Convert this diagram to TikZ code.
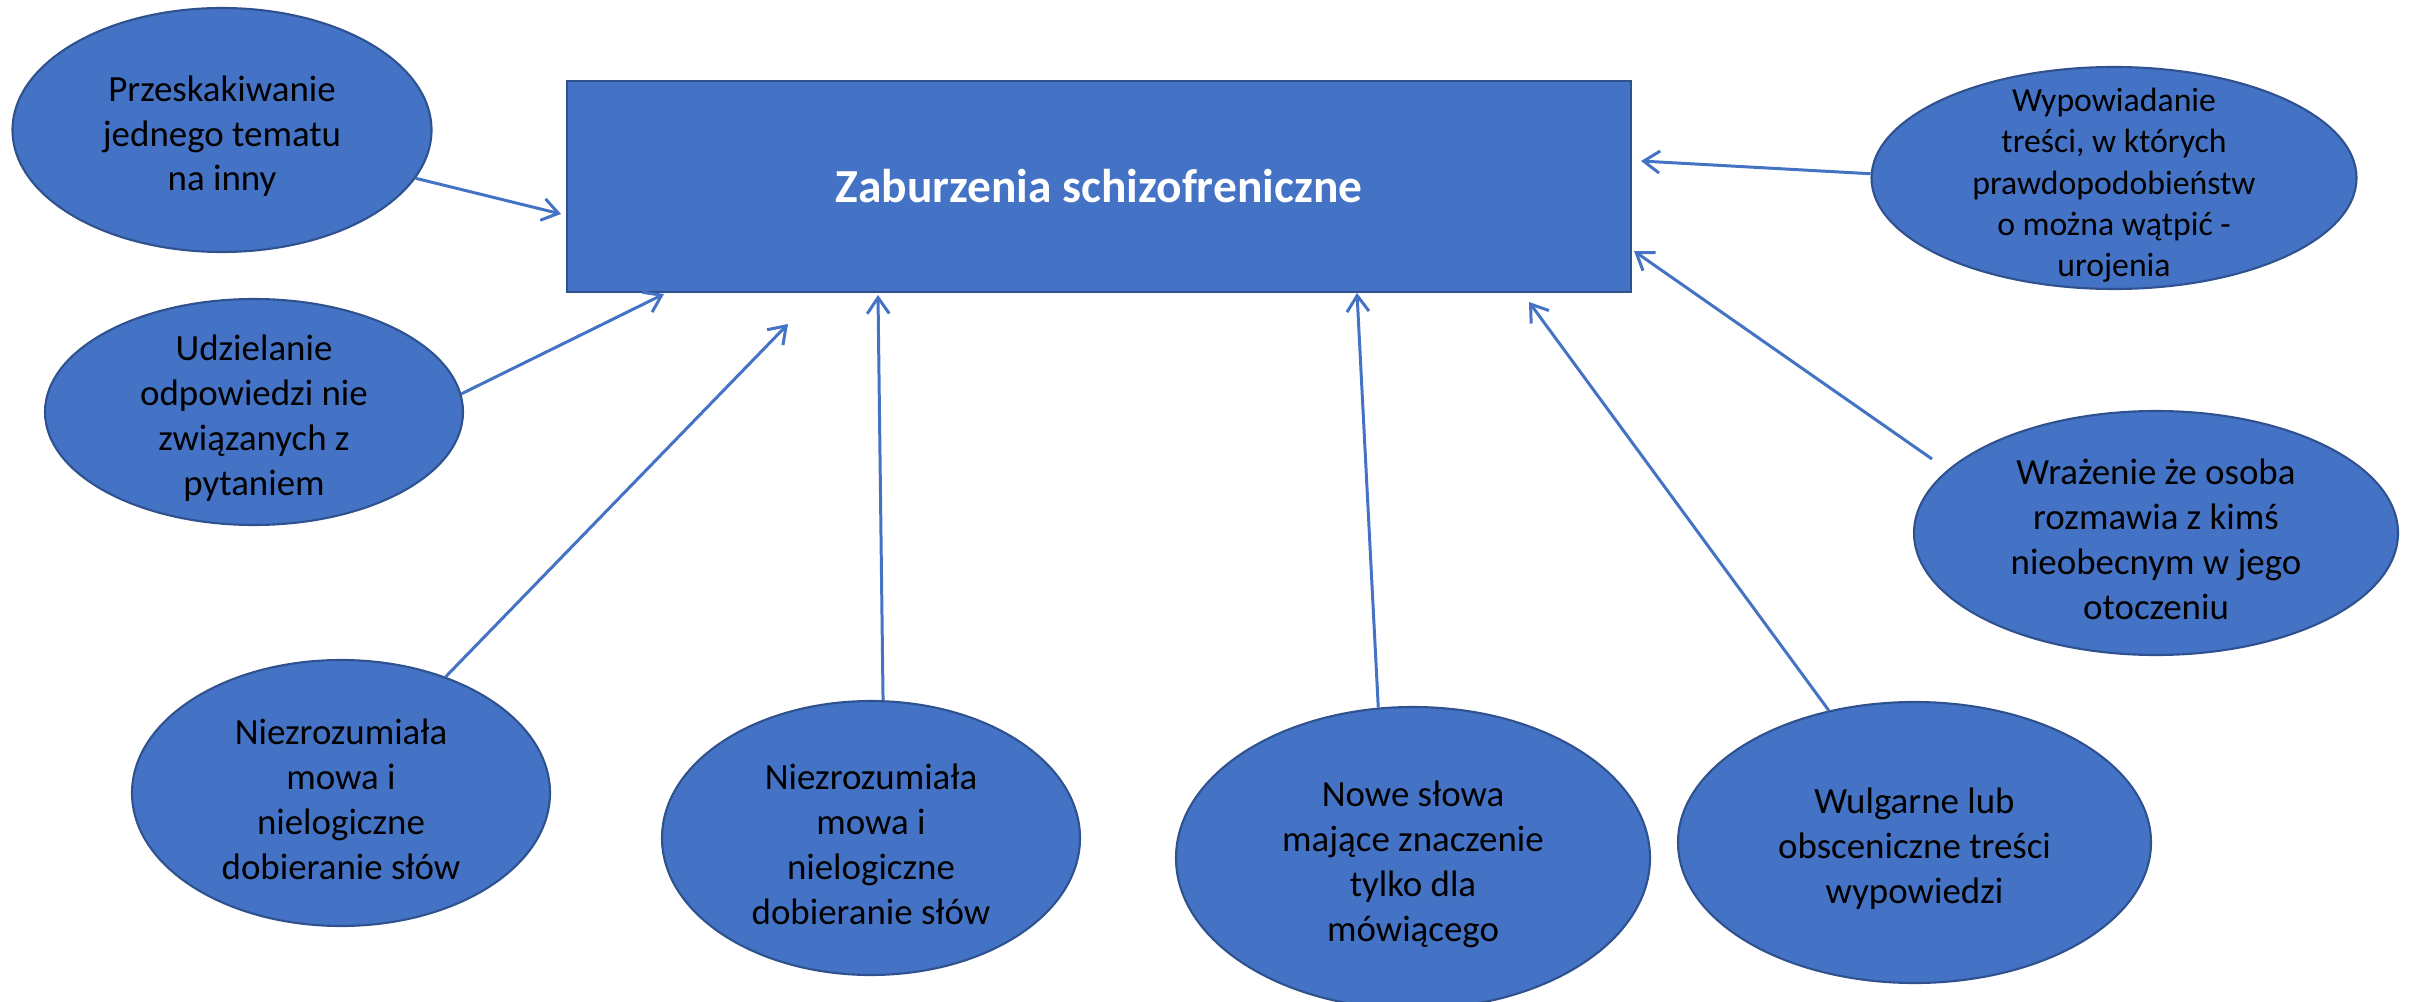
\documentclass[tikz,border=0pt]{standalone}
\usepackage{fontspec}
\setmainfont{Carlito}
\usetikzlibrary{shapes.geometric,arrows.meta}
\definecolor{boxblue}{HTML}{4472C4}
\definecolor{edgeblue}{HTML}{2F528F}
\newcommand{\toppad}{\rule{0pt}{10.8pt}}
\tikzset{
  bubble/.style={ellipse, draw=edgeblue, line width=0.6pt, fill=boxblue, align=center, inner sep=-5mm, font=\fontsize{10.5}{12.8}\selectfont},
  link/.style={draw=boxblue, line width=0.85pt, -{Straight Barb[length=1.6mm,width=2.2mm]}}
}
\begin{document}
\begin{tikzpicture}
\useasboundingbox (0,0) rectangle (24.10,-10.02);
\node[draw=edgeblue, line width=0.6pt, fill=boxblue, minimum width=10.64cm, minimum height=2.11cm, text=white, font=\fontsize{13.5}{16}\selectfont\bfseries] (zab) at (10.99,-1.865) {Zaburzenia schizofreniczne};

\node[bubble, minimum width=4.19cm, minimum height=2.44cm] (skok) at (2.22,-1.30) {\toppad Przeskakiwanie\\jednego tematu\\na inny};
\node[bubble, minimum width=4.18cm, minimum height=2.26cm] (odp) at (2.54,-4.12) {\toppad Udzielanie\\odpowiedzi nie\\związanych z\\pytaniem};
\node[bubble, minimum width=4.18cm, minimum height=2.66cm] (mowa1) at (3.41,-7.93) {\toppad Niezrozumiała\\mowa i\\nielogiczne\\dobieranie słów};
\node[bubble, minimum width=4.18cm, minimum height=2.74cm] (mowa2) at (8.71,-8.38) {\toppad Niezrozumiała\\mowa i\\nielogiczne\\dobieranie słów};
\node[bubble, minimum width=4.74cm, minimum height=3.02cm] (slowa) at (14.13,-8.58) {\toppad Nowe słowa\\mające znaczenie\\tylko dla\\mówiącego};
\node[bubble, minimum width=4.73cm, minimum height=2.81cm] (wulg) at (19.145,-8.425) {\toppad Wulgarne lub\\obsceniczne treści\\wypowiedzi};
\node[bubble, minimum width=4.84cm, minimum height=2.44cm] (rozm) at (21.56,-5.33) {\toppad Wrażenie że osoba\\rozmawia z kimś\\nieobecnym w jego\\otoczeniu};
\node[bubble, minimum width=4.85cm, minimum height=2.22cm, font=\fontsize{9.6}{11.7}\selectfont] (uroj) at (21.14,-1.78) {\toppad Wypowiadanie\\treści, w których\\prawdopodobieństw\\o można wątpić -\\urojenia};

% arrow tips
\coordinate (t1) at (5.61,-2.14);
\coordinate (t2) at (6.64,-2.94);
\coordinate (t3) at (7.88,-3.24);
\coordinate (t4) at (8.78,-2.95);
\coordinate (t5) at (13.57,-2.93);
\coordinate (t6) at (15.29,-3.02);
\coordinate (t7) at (16.34,-2.51);
\coordinate (t8) at (16.41,-1.61);
\coordinate (s7) at (19.32,-4.59);

\draw[link] (skok.346)--(t1);
\draw[link] (odp.5.8)--(t2);
\draw[link] (mowa1.48.6)--(t3);
\draw[link] (mowa2.85.9)--(t4);
\draw[link] (slowa.103)--(t5);
\draw[link] (wulg.123.3)--(t6);
\draw[link] (s7)--(t7);
\draw[link] (uroj.179.5)--(t8);
\end{tikzpicture}
\end{document}
